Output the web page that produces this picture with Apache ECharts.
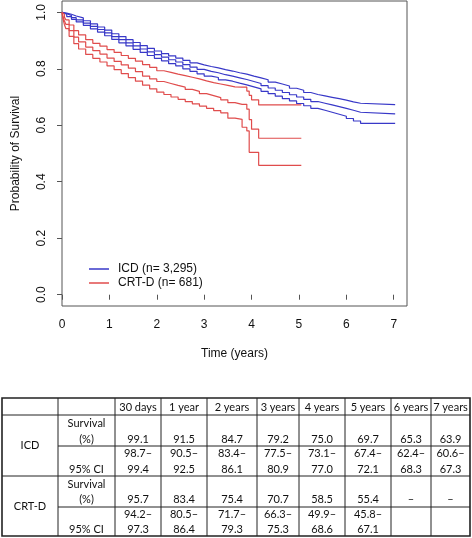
<!DOCTYPE html>
<html><head><meta charset="utf-8">
<script src="https://cdn.jsdelivr.net/npm/echarts@6/dist/echarts.min.js"></script>
<style>html,body{margin:0;padding:0;background:#fff}#c{width:472px;height:538px}</style>
</head><body><div id="c"></div>
<script>
// ---- Survival curve data (time in years, probability) ----
const icdTimes = [0,0.04,0.1,0.2,0.3,0.45,0.6,0.75,0.9,1.05,1.2,1.35,1.5,1.65,1.8,1.95,2.1,2.25,2.4,2.55,2.7,2.85,3.0,3.15,3.3,3.45,3.6,3.75,3.9,4.05,4.2,4.35,4.5,4.65,4.8,4.95,5.1,5.25,5.4,5.55,5.7,5.85,6.0,6.15,6.3,7.03];
const icdEst   = [1.0,0.995,0.989,0.981,0.973,0.962,0.950,0.939,0.927,0.914,0.903,0.892,0.881,0.870,0.860,0.850,0.841,0.832,0.824,0.815,0.806,0.798,0.791,0.786,0.779,0.774,0.768,0.762,0.755,0.748,0.740,0.732,0.724,0.716,0.708,0.700,0.692,0.684,0.678,0.672,0.666,0.660,0.653,0.646,0.640,0.640];
const icdUpper = [1.0,0.997,0.993,0.987,0.980,0.970,0.959,0.948,0.937,0.924,0.914,0.903,0.893,0.882,0.872,0.863,0.854,0.846,0.838,0.830,0.821,0.814,0.808,0.803,0.797,0.792,0.786,0.781,0.774,0.768,0.761,0.753,0.746,0.739,0.731,0.724,0.716,0.709,0.704,0.699,0.694,0.689,0.683,0.678,0.673,0.673];
const icdLower = [1.0,0.993,0.985,0.975,0.966,0.954,0.941,0.930,0.917,0.904,0.892,0.881,0.869,0.858,0.847,0.837,0.828,0.818,0.810,0.800,0.791,0.782,0.774,0.769,0.761,0.756,0.749,0.743,0.736,0.729,0.720,0.712,0.703,0.694,0.686,0.677,0.669,0.660,0.653,0.646,0.639,0.632,0.624,0.615,0.607,0.607];

const crtTimes = [0,0.02,0.05,0.083,0.15,0.25,0.35,0.5,0.65,0.8,0.95,1.1,1.25,1.4,1.55,1.7,1.85,2.0,2.15,2.3,2.45,2.6,2.75,2.9,3.05,3.2,3.35,3.5,3.65,3.8,3.9,3.95,4.0,4.15,5.05];
const crtEst   = [1.0,0.985,0.970,0.957,0.935,0.912,0.895,0.877,0.864,0.852,0.838,0.826,0.814,0.802,0.790,0.774,0.764,0.755,0.748,0.741,0.735,0.727,0.720,0.712,0.705,0.698,0.690,0.680,0.674,0.674,0.657,0.620,0.586,0.554,0.554];
const crtUpper = [1.0,0.993,0.983,0.973,0.955,0.935,0.920,0.903,0.890,0.880,0.868,0.858,0.847,0.837,0.827,0.815,0.805,0.793,0.787,0.781,0.776,0.770,0.764,0.757,0.751,0.746,0.741,0.736,0.735,0.735,0.721,0.706,0.690,0.672,0.672];
const crtLower = [1.0,0.977,0.957,0.942,0.915,0.889,0.870,0.851,0.837,0.824,0.810,0.797,0.783,0.769,0.756,0.742,0.729,0.717,0.709,0.700,0.692,0.684,0.676,0.668,0.660,0.652,0.644,0.625,0.621,0.593,0.580,0.504,0.504,0.458,0.458];

const xTicks = [0,1,2,3,4,5,6,7];
const yTicks = [0,0.2,0.4,0.6,0.8,1.0];
const icdName = 'ICD (n= 3,295)';
const crtName = 'CRT-D (n= 681)';

// ---- Table data ----
const tableHeaders = ['30 days','1 year','2 years','3 years','4 years','5 years','6 years','7 years'];
const icdSurvival = ['99.1','91.5','84.7','79.2','75.0','69.7','65.3','63.9'];
const icdCiLow    = ['98.7','90.5','83.4','77.5','73.1','67.4','62.4','60.6'];
const icdCiHigh   = ['99.4','92.5','86.1','80.9','77.0','72.1','68.3','67.3'];
const crtSurvival = ['95.7','83.4','75.4','70.7','58.5','55.4','–','–'];
const crtCiLow    = ['94.2','80.5','71.7','66.3','49.9','45.8','',''];
const crtCiHigh   = ['97.3','86.4','79.3','75.3','68.6','67.1','',''];

function pairs(t, v) { return t.map((x, i) => [x, v[i]]); }

const BLUE = '#3838c8', RED = '#e04c4c';
function curve(name, color, t, v) {
  return { name, type: 'line', step: 'end', symbol: 'none', showSymbol: false,
    data: pairs(t, v), lineStyle: { color, width: 1.2 }, itemStyle: { color },
    animation: false, silent: true };
}

// ---- Table graphics ----
const colX = [2, 58, 115, 161, 207, 257, 299, 345, 391, 431, 470];
const rowY = [398, 415, 446, 476, 507, 536];
const TF = '11px Lato, "Open Sans", sans-serif';
const graphics = [];
function hline(x1, x2, y, w) { graphics.push({ type: 'line', shape: { x1, y1: y, x2, y2: y }, style: { stroke: '#222', lineWidth: w || 1 }, silent: true }); }
function vline(x, y1, y2, w) { graphics.push({ type: 'line', shape: { x1: x, y1, x2: x, y2 }, style: { stroke: '#222', lineWidth: w || 1 }, silent: true }); }
function txt(s, x, y) { if (!s) return; graphics.push({ type: 'text', x, y, style: { text: s, font: TF, fill: '#111', align: 'center', verticalAlign: 'middle' }, silent: true }); }

graphics.push({ type: 'rect', shape: { x: colX[0], y: rowY[0], width: colX[10] - colX[0], height: rowY[5] - rowY[0] }, style: { fill: 'none', stroke: '#222', lineWidth: 1.6 }, silent: true });
hline(colX[0], colX[10], rowY[1]);
hline(colX[1], colX[10], rowY[2]);
hline(colX[0], colX[10], rowY[3]);
hline(colX[1], colX[10], rowY[4]);
for (let i = 1; i < colX.length - 1; i++) vline(colX[i], rowY[0], rowY[5]);

const cx = i => (colX[i] + colX[i + 1]) / 2;
tableHeaders.forEach((h, j) => txt(h, cx(j + 2), 407));
txt('ICD', cx(0), 445);
txt('CRT-D', cx(0), 506);
[[423, 439, 453, 469, icdSurvival, icdCiLow, icdCiHigh], [484, 499, 514, 529, crtSurvival, crtCiLow, crtCiHigh]].forEach(g => {
  const [ySurv1, ySurv2, yCi1, yCi2, surv, lo, hi] = g;
  txt('Survival', cx(1), ySurv1);
  txt('(%)', cx(1), ySurv2);
  txt('95% CI', cx(1), yCi2);
  surv.forEach((s, j) => {
    txt(s, cx(j + 2), ySurv2);
    if (lo[j]) txt(lo[j] + '–', cx(j + 2), yCi1);
    if (hi[j]) txt(hi[j], cx(j + 2), yCi2);
  });
});

const chart = echarts.init(document.getElementById('c'), null, { renderer: 'canvas' });
const AF = 'Liberation Sans, Arial, sans-serif';
chart.setOption({
  animation: false,
  backgroundColor: '#fff',
  grid: { left: 62, top: 1, right: 65, bottom: 232, show: true, borderColor: '#555', borderWidth: 1, backgroundColor: 'transparent' },
  xAxis: {
    type: 'value', min: 0, max: 7.28,
    name: 'Time (years)', nameLocation: 'middle', nameGap: 42,
    nameTextStyle: { fontFamily: AF, fontSize: 12, color: '#111' },
    axisLine: { show: false },
    axisTick: { show: true, inside: false, length: 5, lineStyle: { color: '#555' }, customValues: xTicks },
    axisLabel: { fontFamily: AF, fontSize: 12, color: '#111', margin: 13, customValues: xTicks, formatter: v => String(v) },
    splitLine: { show: false }
  },
  yAxis: {
    type: 'value', min: -0.04, max: 1.04,
    name: 'Probability of Survival', nameLocation: 'middle', nameGap: 40,
    nameTextStyle: { fontFamily: AF, fontSize: 12, color: '#111' },
    axisLine: { show: false },
    axisTick: { show: true, inside: false, length: 5, lineStyle: { color: '#555' }, customValues: yTicks },
    axisLabel: { fontFamily: AF, fontSize: 12, color: '#111', rotate: 90, margin: 20, align: 'center', verticalAlign: 'middle', customValues: yTicks, formatter: v => v.toFixed(1) },
    splitLine: { show: false }
  },
  legend: {
    data: [icdName, crtName], orient: 'vertical', left: 89, top: 262, padding: 0,
    icon: 'rect', itemWidth: 20, itemHeight: 1.5, itemGap: 0,
    textStyle: { fontFamily: AF, fontSize: 12, color: '#111', lineHeight: 14, padding: [0, 0, 0, 4] },
    selectedMode: false
  },
  series: [
    curve(icdName, BLUE, icdTimes, icdUpper),
    curve(icdName, BLUE, icdTimes, icdEst),
    curve(icdName, BLUE, icdTimes, icdLower),
    curve(crtName, RED, crtTimes, crtUpper),
    curve(crtName, RED, crtTimes, crtEst),
    curve(crtName, RED, crtTimes, crtLower)
  ],
  graphic: graphics
});
</script>
</body></html>
